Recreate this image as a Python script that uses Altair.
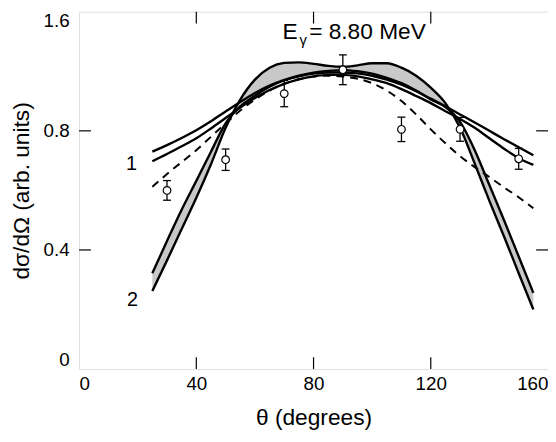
import altair as alt
import pandas as pd

# ---------------- data ----------------
theta = [25, 30, 35, 40, 45, 50, 55, 60, 65, 70, 75, 80, 85, 90, 95,
         100, 105, 110, 115, 120, 125, 130, 135, 140, 145, 150, 155]

curve1_upper = [0.730, 0.752, 0.776, 0.802, 0.832, 0.865, 0.897, 0.927, 0.952, 0.970,
                0.983, 0.992, 0.996, 0.996, 0.993, 0.985, 0.972, 0.955, 0.933, 0.908,
                0.882, 0.855, 0.828, 0.800, 0.772, 0.745, 0.718]
curve1_lower = [0.698, 0.722, 0.748, 0.775, 0.808, 0.843, 0.878, 0.910, 0.937, 0.958,
                0.973, 0.983, 0.988, 0.988, 0.983, 0.973, 0.960, 0.940, 0.917, 0.893,
                0.866, 0.840, 0.810, 0.775, 0.740, 0.708, 0.686]
dashed = [0.612, 0.655, 0.695, 0.735, 0.780, 0.825, 0.868, 0.905, 0.935, 0.958,
          0.973, 0.982, 0.985, 0.982, 0.975, 0.960, 0.935, 0.900, 0.855, 0.805,
          0.758, 0.715, 0.678, 0.645, 0.610, 0.577, 0.540]
band_a = [0.262, 0.365, 0.470, 0.575, 0.688, 0.810, 0.905, 0.972, 1.012, 1.028,
          1.030, 1.025, 1.018, 1.015, 1.020, 1.027, 1.027, 1.012, 0.985, 0.945,
          0.893, 0.810, 0.690, 0.565, 0.445, 0.322, 0.200]
band_b = [0.322, 0.430, 0.535, 0.632, 0.730, 0.825, 0.882, 0.918, 0.948, 0.970,
          0.985, 0.995, 1.001, 1.004, 1.000, 0.992, 0.978, 0.960, 0.935, 0.905,
          0.880, 0.830, 0.735, 0.618, 0.500, 0.378, 0.256]

pts_theta = [30, 50, 70, 90, 110, 130, 150]
pts_val = [0.600, 0.703, 0.925, 1.005, 0.805, 0.805, 0.706]
pts_err = [0.033, 0.036, 0.044, 0.050, 0.041, 0.040, 0.035]

x_ticks = [0, 40, 80, 120, 160]
y_ticks = [0, 0.4, 0.8, 1.2]
y_tick_labels = ["0", "0.4", "0.8", "1.6"]
inner_x_ticks = [40, 80, 120]
inner_y_ticks = [0.4, 0.8]

x_title = "θ (degrees)"
y_title = "dσ/dΩ (arb. units)"

curve_labels = ["1", "2"]
curve_label_theta = [17.9, 18.2]
curve_label_val = [0.69, 0.232]

energy_parts = ["E", "γ", "= 8.80 MeV"]
energy_theta = [69.4, 75.2, 78.5]
energy_val = [1.108, 1.089, 1.108]
energy_size = [23, 15, 23]

# ---------------- layout / style ----------------
W, H = 475, 362
FONT = "Liberation Sans"
TICK = 12

curves = pd.DataFrame({
    "theta": theta, "c1u": curve1_upper, "c1l": curve1_lower,
    "dash": dashed, "ba": band_a, "bb": band_b,
})
pts = pd.DataFrame({
    "theta": pts_theta, "v": pts_val,
    "lo": [v - e for v, e in zip(pts_val, pts_err)],
    "hi": [v + e for v, e in zip(pts_val, pts_err)],
})

expr = "''"
for v, lab in zip(reversed(y_ticks), reversed(y_tick_labels)):
    expr = f"abs(datum.value - {v}) < 1e-6 ? '{lab}' : ({expr})"

xs = alt.Scale(domain=[0, 160], nice=False, zero=False)
ys = alt.Scale(domain=[0, 1.2], nice=False, zero=False)

xaxis = alt.Axis(values=x_ticks, ticks=False, domain=False, grid=False,
                 labelFlush=True, labelPadding=6, titlePadding=13,
                 labelFontSize=19, titleFontSize=23, titleFontWeight=400,
                 labelFont=FONT, titleFont=FONT, labelColor="black",
                 titleColor="black")
yaxis = alt.Axis(values=y_ticks, ticks=False, domain=False, grid=False,
                 labelFlush=True, labelPadding=10, titlePadding=10,
                 labelExpr=expr, labelFontSize=19, titleFontSize=23,
                 titleFontWeight=400, labelFont=FONT, titleFont=FONT,
                 labelColor="black", titleColor="black")

X = alt.X("theta:Q", scale=xs, axis=xaxis, title=x_title)
base = alt.Chart(curves)

band = base.mark_area(color="#c8c8c8", interpolate="monotone").encode(
    x=X, y=alt.Y("ba:Q", scale=ys, axis=yaxis, title=y_title), y2="bb:Q")

def line(field, dash=None):
    kw = dict(color="black", strokeWidth=2.4, interpolate="monotone")
    if dash:
        kw["strokeDash"] = dash
        kw["strokeWidth"] = 2
    return base.mark_line(**kw).encode(
        x=alt.X("theta:Q", scale=xs), y=alt.Y(f"{field}:Q", scale=ys))

lines = [line("ba"), line("bb"), line("c1u"), line("c1l"), line("dash", [8, 6])]

pbase = alt.Chart(pts)
err = pbase.mark_rule(color="black", strokeWidth=1.3).encode(
    x=alt.X("theta:Q", scale=xs), y=alt.Y("lo:Q", scale=ys), y2="hi:Q")
cap_lo = pbase.mark_point(shape="M-1,0L1,0", size=64, color="black",
                          strokeWidth=1.3, filled=False, opacity=1).encode(
    x=alt.X("theta:Q", scale=xs), y=alt.Y("lo:Q", scale=ys))
cap_hi = pbase.mark_point(shape="M-1,0L1,0", size=64, color="black",
                          strokeWidth=1.3, filled=False, opacity=1).encode(
    x=alt.X("theta:Q", scale=xs), y=alt.Y("hi:Q", scale=ys))
circles = pbase.mark_point(shape="circle", size=60, fill="white", stroke="black",
                           strokeWidth=1.2, filled=True, opacity=1).encode(
    x=alt.X("theta:Q", scale=xs), y=alt.Y("v:Q", scale=ys))

# inward ticks on all four sides
xt = alt.Chart(pd.DataFrame({"t": inner_x_ticks}))
yt = alt.Chart(pd.DataFrame({"t": inner_y_ticks}))
tick_style = dict(color="black", strokeWidth=1.2)
t_bottom = xt.mark_rule(**tick_style).encode(
    x=alt.X("t:Q", scale=xs), y=alt.value(H), y2=alt.value(H - TICK))
t_top = xt.mark_rule(**tick_style).encode(
    x=alt.X("t:Q", scale=xs), y=alt.value(0), y2=alt.value(TICK))
t_left = yt.mark_rule(**tick_style).encode(
    y=alt.Y("t:Q", scale=ys), x=alt.value(0), x2=alt.value(TICK))
t_right = yt.mark_rule(**tick_style).encode(
    y=alt.Y("t:Q", scale=ys), x=alt.value(W), x2=alt.value(W - TICK))

lab = alt.Chart(pd.DataFrame({"t": curve_label_theta, "v": curve_label_val,
                              "s": curve_labels}))
labels = lab.mark_text(font=FONT, fontSize=20, color="black", align="center",
                       baseline="middle").encode(
    x=alt.X("t:Q", scale=xs), y=alt.Y("v:Q", scale=ys), text="s:N")

energy = []
for part, t, v, s in zip(energy_parts, energy_theta, energy_val, energy_size):
    energy.append(alt.Chart(pd.DataFrame({"t": [t], "v": [v], "s": [part]}))
                  .mark_text(font=FONT, fontSize=s, color="black", align="left",
                             baseline="alphabetic")
                  .encode(x=alt.X("t:Q", scale=xs), y=alt.Y("v:Q", scale=ys),
                          text="s:N"))

chart = alt.layer(
    band, *lines, err, cap_lo, cap_hi, circles,
    t_bottom, t_top, t_left, t_right, labels, *energy
).properties(
    width=W, height=H, autosize="none",
    padding={"left": 72, "top": 1, "right": 0, "bottom": 63},
).configure_view(
    stroke="black", strokeWidth=2
).configure(background="white")

chart.save("out.html", embed_options={"renderer": "svg", "actions": False})
